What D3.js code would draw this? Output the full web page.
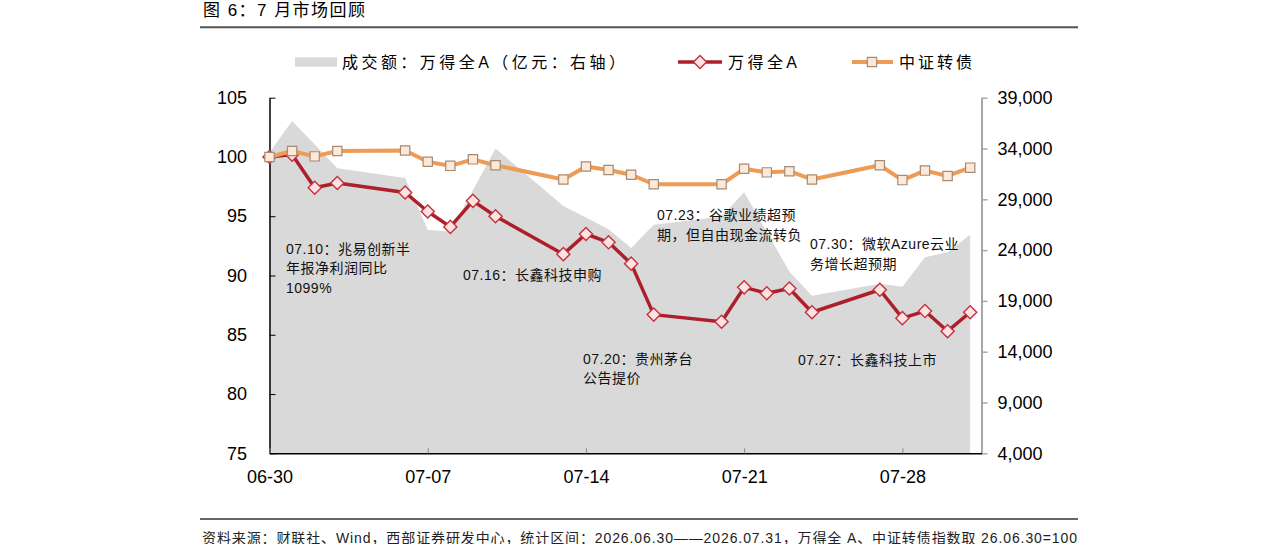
<!DOCTYPE html>
<html lang="zh">
<head>
<meta charset="utf-8">
<script src="https://d3js.org/d3.v7.min.js"></script>
<title>7月市场回顾</title>
<style>
  body { margin: 0; background: #fff; }
  svg { display: block; font-family: "Liberation Sans", Arial, "Noto Sans CJK SC", sans-serif; }
  .axis text { font-size: 18px; fill: #000; }
  .note { font-size: 14px; fill: #111; letter-spacing: 0.5px; }
</style>
</head>
<body>
<div id="chart"></div>
<script>
// trading days, 2026
const dates = ["06-30","07-01","07-02","07-03","07-06","07-07","07-08","07-09","07-10",
  "07-13","07-14","07-15","07-16","07-17","07-20","07-21","07-22","07-23","07-24",
  "07-27","07-28","07-29","07-30","07-31"];
// 万得全A (26.06.30 = 100)
const windA = [100.0, 100.2, 97.4, 97.8, 97.0, 95.4, 94.1, 96.3, 95.0,
  91.8, 93.5, 92.8, 91.0, 86.7, 86.1, 89.0, 88.5, 88.9, 86.9,
  88.8, 86.4, 87.0, 85.3, 86.9];
// 中证转债 (26.06.30 = 100)
const cbIndex = [100.0, 100.5, 100.05, 100.5, 100.55, 99.6, 99.25, 99.8, 99.3,
  98.1, 99.2, 98.9, 98.5, 97.7, 97.7, 99.0, 98.7, 98.8, 98.1,
  99.3, 98.05, 98.85, 98.4, 99.1];
// 成交额：万得全A（亿元）
const turnover = [33600, 36700, 34400, 32050, 31100, 26000, 25800, 29900, 34000,
  28350, 27200, 26050, 24200, 26500, 27300, 29700, 25800, 21900, 19500,
  20700, 20400, 23300, 23800, 25500];

const xTicks = ["06-30","07-07","07-14","07-21","07-28"];
const leftTicks = [75, 80, 85, 90, 95, 100, 105];
const rightTicks = [4000, 9000, 14000, 19000, 24000, 29000, 34000, 39000];

const titleText = "图 6：7 月市场回顾";
const legendNames = ["成交额：万得全A（亿元：右轴）", "万得全A", "中证转债"];
const notes = [
  ["07.10：兆易创新半", "年报净利润同比", "1099%"],
  ["07.16：长鑫科技申购"],
  ["07.20：贵州茅台", "公告提价"],
  ["07.23：谷歌业绩超预", "期，但自由现金流转负"],
  ["07.30：微软Azure云业", "务增长超预期"],
  ["07.27：长鑫科技上市"]
];
const sourceText = "资料来源：财联社、Wind，西部证券研发中心，统计区间：2026.06.30——2026.07.31，万得全 A、中证转债指数取 26.06.30=100";

const parse = d3.timeParse("%Y-%m-%d");
const toDate = s => parse("2026-" + s);

const W = 1280, H = 544;
const plot = {left: 269.5, right: 981.5, top: 97.7, bottom: 453.3};

const svg = d3.select("#chart").append("svg")
  .attr("width", W).attr("height", H);

const x = d3.scaleTime()
  .domain([toDate("06-30"), new Date(2026, 6, 31, 12)])
  .range([plot.left, plot.right]);
const yL = d3.scaleLinear().domain([75, 105]).range([plot.bottom, plot.top]);
const yR = d3.scaleLinear().domain([4000, 39000]).range([plot.bottom, plot.top]);

const rows = dates.map((d, i) => ({
  date: toDate(d), wind: windA[i], cb: cbIndex[i], vol: turnover[i]
}));

// title + rules
svg.append("text").attr("x", 203).attr("y", 16)
  .attr("font-size", 17).attr("textLength", 162).attr("lengthAdjust", "spacing")
  .text(titleText);
svg.append("line").attr("x1", 200).attr("x2", 1078).attr("y1", 27.3).attr("y2", 27.3)
  .attr("stroke", "#555").attr("stroke-width", 2);

// turnover area
svg.append("path").datum(rows)
  .attr("fill", "#d9d9d9")
  .attr("d", d3.area().x(d => x(d.date)).y0(yR(4000)).y1(d => yR(d.vol)));

// annotations
const notePos = [[286, 253.5], [463, 279.5], [583, 363.5], [657, 220], [810, 249], [798, 365]];
notes.forEach((lines, i) => {
  const t = svg.append("text").attr("class", "note");
  lines.forEach((ln, j) => {
    t.append("tspan").attr("x", notePos[i][0]).attr("y", notePos[i][1] + j * 19.5).text(ln);
  });
});

// axes
const gL = svg.append("g").attr("class", "axis")
  .attr("transform", `translate(${plot.left},0)`)
  .call(d3.axisLeft(yL).tickValues(leftTicks).tickSizeInner(-6).tickSizeOuter(0).tickPadding(22.5));
gL.select(".domain").attr("stroke", "#000").attr("stroke-width", 1.5);
gL.selectAll(".tick line").attr("stroke", "#000");

const gR = svg.append("g").attr("class", "axis")
  .attr("transform", `translate(${plot.right},0)`)
  .call(d3.axisRight(yR).tickValues(rightTicks).tickFormat(d3.format(","))
    .tickSizeInner(6).tickSizeOuter(0).tickPadding(10));
gR.select(".domain").attr("stroke", "#a6a6a6").attr("stroke-width", 2);
gR.selectAll(".tick line").attr("stroke", "#a6a6a6").attr("stroke-width", 1.5);

const gB = svg.append("g").attr("class", "axis")
  .attr("transform", `translate(0,${plot.bottom})`)
  .call(d3.axisBottom(x).tickValues(xTicks.map(toDate)).tickFormat(d3.timeFormat("%m-%d"))
    .tickSizeInner(-5).tickSizeOuter(0).tickPadding(17));
gB.select(".domain").attr("stroke", "#000").attr("stroke-width", 1.5);
gB.selectAll(".tick line").attr("stroke", "#888");

// series
const redColor = "#ad1f2b", orangeColor = "#ee9b55";
const diamond = d3.symbol().type(d3.symbolDiamond2).size(110);
const square = d3.symbol().type(d3.symbolSquare2).size(110);

svg.append("path").datum(rows)
  .attr("fill", "none").attr("stroke", redColor).attr("stroke-width", 3.5)
  .attr("stroke-linejoin", "round")
  .attr("d", d3.line().x(d => x(d.date)).y(d => yL(d.wind)));
svg.selectAll(".dmark").data(rows).join("path").attr("class", "dmark")
  .attr("transform", d => `translate(${x(d.date)},${yL(d.wind)})`)
  .attr("d", diamond).attr("fill", "#fde3e3").attr("stroke", "#c3323c").attr("stroke-width", 1.4);

svg.append("path").datum(rows)
  .attr("fill", "none").attr("stroke", orangeColor).attr("stroke-width", 4)
  .attr("stroke-linejoin", "round")
  .attr("d", d3.line().x(d => x(d.date)).y(d => yL(d.cb)));
svg.selectAll(".smark").data(rows).join("path").attr("class", "smark")
  .attr("transform", d => `translate(${x(d.date)},${yL(d.cb)})`)
  .attr("d", square).attr("fill", "#fde9d8").attr("stroke", "#a68a74").attr("stroke-width", 1.2);

// legend
const lg = svg.append("g").attr("font-size", 16);
lg.append("rect").attr("x", 295).attr("y", 57.3).attr("width", 42).attr("height", 9.4).attr("fill", "#d9d9d9");
lg.append("text").attr("x", 342).attr("y", 67.5).attr("textLength", 283).attr("lengthAdjust", "spacing").text(legendNames[0]);
lg.append("line").attr("x1", 678).attr("x2", 722).attr("y1", 62).attr("y2", 62)
  .attr("stroke", redColor).attr("stroke-width", 3.5);
lg.append("path").attr("transform", "translate(700,62)").attr("d", diamond)
  .attr("fill", "#fde3e3").attr("stroke", "#c3323c").attr("stroke-width", 1.4);
lg.append("text").attr("x", 728).attr("y", 67.5).attr("textLength", 69).attr("lengthAdjust", "spacing").text(legendNames[1]);
lg.append("line").attr("x1", 852).attr("x2", 893).attr("y1", 62).attr("y2", 62)
  .attr("stroke", orangeColor).attr("stroke-width", 4);
lg.append("path").attr("transform", "translate(872,62)").attr("d", square)
  .attr("fill", "#fde9d8").attr("stroke", "#a68a74").attr("stroke-width", 1.2);
lg.append("text").attr("x", 899).attr("y", 67.5).attr("textLength", 73).attr("lengthAdjust", "spacing").text(legendNames[2]);

// source footer
svg.append("line").attr("x1", 200).attr("x2", 1078).attr("y1", 519).attr("y2", 519)
  .attr("stroke", "#333").attr("stroke-width", 1.5);
svg.append("text").attr("x", 202).attr("y", 542.5).attr("font-size", 14).attr("fill", "#222")
  .attr("textLength", 875).attr("lengthAdjust", "spacing").text(sourceText);
</script>
</body>
</html>
